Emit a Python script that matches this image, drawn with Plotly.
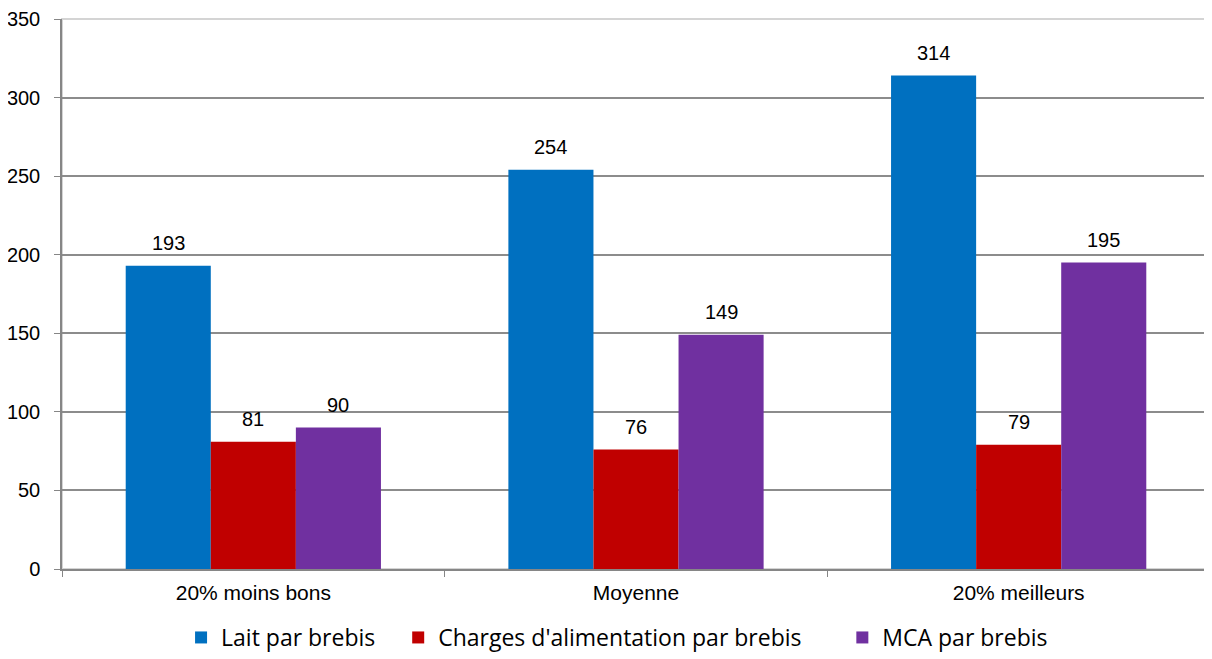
import plotly.graph_objects as go

categories = ["20% moins bons", "Moyenne", "20% meilleurs"]
lait = [193, 254, 314]
charges = [81, 76, 79]
mca = [90, 149, 195]

series_names = ["Lait par brebis", "Charges d'alimentation par brebis", "MCA par brebis"]
colors = ["#0070C0", "#C00000", "#7030A0"]
legend_pads = [3, 6, 0]  # espaces insécables après chaque entrée

# la page html a une marge de 8 px : on réduit la figure d'autant
W, H = 1204, 651
ml, mr, mt, mb = 54, 2, 11, 90
bargap = 0.333
# largeur d'une barre en pixels, pour décaler les étiquettes
bar_px = (W - ml - mr) / len(categories) * (1 - bargap) / len(series_names)

fig = go.Figure()
annotations = []
for i, (name, vals, col) in enumerate(zip(series_names, [lait, charges, mca], colors)):
    fig.add_trace(go.Bar(
        x=categories,
        y=vals,
        name=name + "\u00a0" * legend_pads[i],
        marker=dict(color=col, line=dict(width=0)),
    ))
    for cat, v in zip(categories, vals):
        annotations.append(dict(
            x=cat, y=v, text=str(v), showarrow=False,
            xshift=(i - 1) * bar_px, yshift=10, yanchor="bottom",
            font=dict(family="Liberation Sans, Arial", size=20, color="black"),
        ))

# cadre clair haut/droite
fig.add_shape(type="rect", xref="paper", yref="paper", x0=0, x1=1, y0=0, y1=1,
              line=dict(color="#d4d4d4", width=2), layer="below")

fig.update_layout(
    width=W,
    height=H,
    margin=dict(l=ml, r=mr, t=mt, b=mb),
    plot_bgcolor="white",
    paper_bgcolor="white",
    barmode="group",
    bargap=bargap,
    bargroupgap=0,
    annotations=annotations,
    font=dict(family="Liberation Sans, Arial", color="black"),
    showlegend=True,
    legend=dict(
        orientation="h",
        x=0.4835,
        xanchor="center",
        yref="container",
        y=-0.026,
        yanchor="bottom",
        font=dict(family="Open Sans, Noto Sans", size=23, color="black"),
        tracegroupgap=0,
    ),
    xaxis=dict(
        automargin=False,
        showgrid=False,
        showline=True,
        linecolor="#868686",
        linewidth=1.5,
        ticks="outside",
        tickson="boundaries",
        ticklen=6,
        tickcolor="#868686",
        tickfont=dict(size=21),
        ticklabelstandoff=4,
    ),
    yaxis=dict(
        automargin=False,
        range=[0, 350],
        dtick=50,
        showgrid=True,
        gridcolor="#8c8c8c",
        gridwidth=1.5,
        showline=True,
        linecolor="#868686",
        linewidth=1.5,
        ticks="outside",
        ticklen=6,
        tickcolor="#868686",
        tickfont=dict(size=20),
        ticklabelstandoff=10,
        zeroline=False,
    ),
)

fig.write_html("out.html")
